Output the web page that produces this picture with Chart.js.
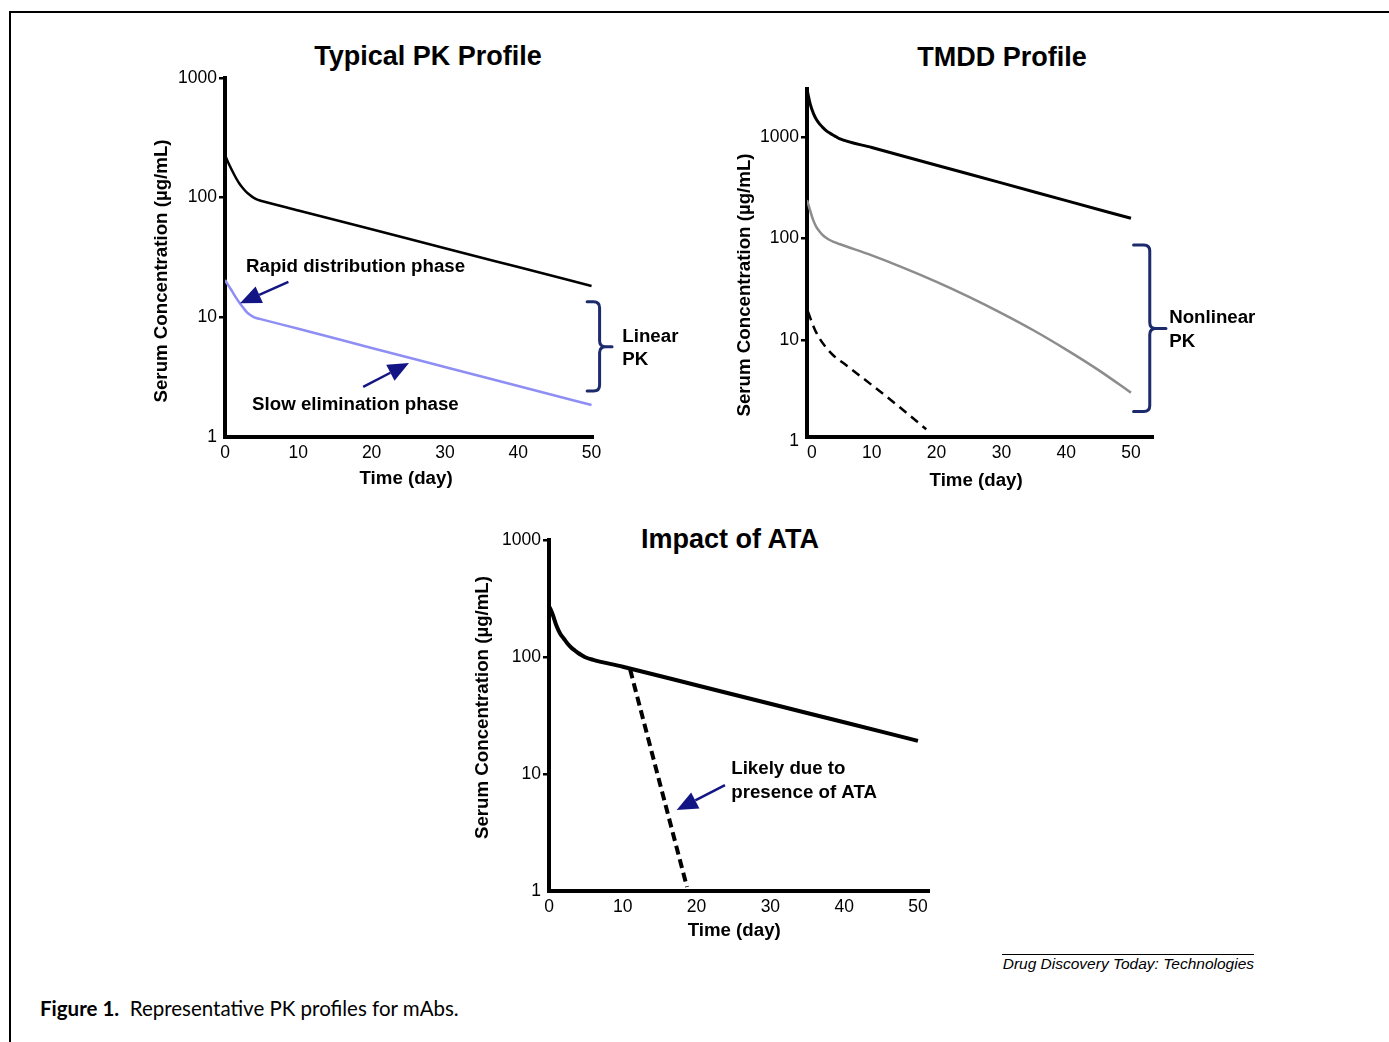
<!DOCTYPE html>
<html>
<head>
<meta charset="utf-8">
<script src="https://cdn.jsdelivr.net/npm/chart.js@4.4.1/dist/chart.umd.min.js"></script>
<style>
  body { margin: 0; background: #fff; width: 1389px; height: 1042px; position: relative; overflow: hidden;
         font-family: "Liberation Sans", Arial, Helvetica, sans-serif; color: #000; }
  .frame { position: absolute; left: 9px; top: 11px; width: 1380px; height: 1031px;
           border-top: 2px solid #000; border-left: 2px solid #000; }
  .title { position: absolute; width: 400px; text-align: center; font-weight: bold; font-size: 27px; line-height: 30px; }
  canvas { position: absolute; }
  .rule { position: absolute; left: 1002px; top: 954px; width: 252px; border-top: 1px solid #000; }
  .journal { position: absolute; left: 900px; top: 955px; width: 354px; text-align: right;
             font-style: italic; font-size: 15.5px; line-height: 18px; }
  .caption { position: absolute; left: 40px; top: 997px; font-family: Lato, "Open Sans", sans-serif;
             font-size: 20.5px; line-height: 22px; }
</style>
</head>
<body>
<div class="frame"></div>

<div class="title" style="left:228px; top:41px;">Typical PK Profile</div>
<div class="title" style="left:802px; top:42px;">TMDD Profile</div>
<div class="title" style="left:530px; top:524px;">Impact of ATA</div>

<canvas id="pk" width="600" height="450" style="left:130px; top:50px;"></canvas>
<canvas id="tmdd" width="680" height="450" style="left:700px; top:50px;"></canvas>
<canvas id="ata" width="640" height="440" style="left:440px; top:510px;"></canvas>

<div class="rule"></div>
<div class="journal">Drug Discovery Today: Technologies</div>
<div class="caption"><b>Figure 1.</b>&nbsp; Representative PK profiles for mAbs.</div>

<script>
const FONT = '"Liberation Sans", Arial, Helvetica, sans-serif';
const ARROW = '#141584';
const BRACE = '#1c2b6c';

// shared axis ticks
const dayTicks = [0, 10, 20, 30, 40, 50];
const concTicks = [1, 10, 100, 1000];

// Typical PK profile
const pkDays = [0, 0.5, 1, 1.5, 2, 2.5, 3, 3.5, 4, 4.5, 5, 10, 20, 30, 40, 50];
const pkUpper = [227, 193, 167, 146, 130, 119, 110, 104, 99.2, 95.9, 93.9, 78.2, 54.4, 37.8, 26.3, 18.3];
const pkLowerDays = [0, 0.5, 1, 1.5, 2, 2.5, 3, 3.5, 4, 4.5, 5, 10, 20, 30, 40, 50];
const pkLower = [20.5, 18.3, 16.4, 14.6, 13.2, 12.0, 11.0, 10.4, 10.0, 9.79, 9.61, 8.02, 5.55, 3.85, 2.67, 1.85];

// TMDD profile
const tmddHighDays = [0, 0.5, 1, 1.5, 2, 2.5, 3, 3.5, 4, 4.5, 5, 10, 20, 30, 40, 50];
const tmddHigh = [2940, 2110, 1700, 1470, 1330, 1230, 1150, 1095, 1046, 1004, 963, 788, 527, 353, 236, 158];
const tmddMidDays = [0, 0.5, 1, 1.5, 2, 2.5, 3, 3.5, 4, 4.5, 5, 10, 15, 20, 25, 30, 35, 40, 45, 50];
const tmddMid = [239, 187, 149, 128, 116, 107, 101, 96.6, 93.2, 90.7, 88.2, 68.1, 51.1, 37.4, 26.6, 18.4, 12.4, 8.04, 5.05, 3.03];
const tmddLowDays = [0.15, 0.5, 1, 1.5, 2, 3, 4, 6, 10, 14, 18.4];
const tmddLow = [19.0, 16.5, 13.6, 11.6, 10.2, 8.34, 7.11, 5.67, 3.6, 2.26, 1.32];

// Impact of ATA
const ataDays = [0, 0.5, 1, 1.5, 2, 2.5, 3, 3.5, 4, 4.5, 5, 6, 10, 20, 30, 40, 50];
const ataNoAta = [273, 231, 186, 159, 144, 130.5, 120.6, 113.6, 107.6, 103, 99, 94.6, 82.5, 57.3, 39.8, 27.7, 19.2];
const ataWithDays = [11, 18.7];
const ataWith = [78, 1.08];

function points(xs, ys) {
  return xs.map((x, i) => ({ x: x, y: ys[i] }));
}

function drawArrow(ctx, x1, y1, x2, y2) {
  const ang = Math.atan2(y2 - y1, x2 - x1);
  const len = 21, half = 9;
  const bx = x2 - len * Math.cos(ang), by = y2 - len * Math.sin(ang);
  ctx.strokeStyle = ARROW;
  ctx.fillStyle = ARROW;
  ctx.lineWidth = 2.5;
  ctx.beginPath();
  ctx.moveTo(x1, y1);
  ctx.lineTo(bx, by);
  ctx.stroke();
  ctx.beginPath();
  ctx.moveTo(x2, y2);
  ctx.lineTo(bx + half * Math.sin(ang), by - half * Math.cos(ang));
  ctx.lineTo(bx - half * Math.sin(ang), by + half * Math.cos(ang));
  ctx.closePath();
  ctx.fill();
}

function drawBrace(ctx, xl, xv, xr, yt, ym, yb) {
  const r = 6;
  ctx.strokeStyle = BRACE;
  ctx.lineWidth = 3;
  ctx.lineCap = 'round';
  ctx.lineJoin = 'round';
  ctx.beginPath();
  ctx.moveTo(xl, yt);
  ctx.lineTo(xv - r, yt);
  ctx.quadraticCurveTo(xv, yt, xv, yt + r);
  ctx.lineTo(xv, ym - r);
  ctx.quadraticCurveTo(xv, ym, xv + r, ym);
  ctx.lineTo(xr, ym);
  ctx.lineTo(xv + r, ym);
  ctx.quadraticCurveTo(xv, ym, xv, ym + r);
  ctx.lineTo(xv, yb - r);
  ctx.quadraticCurveTo(xv, yb, xv - r, yb);
  ctx.lineTo(xl, yb);
  ctx.stroke();
}

// axis titles, labels, arrows and braces, placed through the chart's own scales
function notesPlugin(cfg) {
  return {
    id: 'pkNotes',
    afterDraw(chart) {
      const ctx = chart.ctx, area = chart.chartArea;
      const px = d => chart.scales.x.getPixelForValue(d);
      const py = v => chart.scales.y.getPixelForValue(v);
      ctx.save();
      ctx.fillStyle = '#000';
      ctx.font = 'bold 18.7px ' + FONT;
      ctx.textAlign = 'center';
      ctx.textBaseline = 'middle';
      ctx.fillText('Time (day)', px(cfg.xTitleDay), area.bottom + cfg.xTitleGap);
      ctx.save();
      ctx.translate(area.left - cfg.yTitleGap, py(cfg.yTitleValue));
      ctx.rotate(-Math.PI / 2);
      ctx.fillText('Serum Concentration (µg/mL)', 0, 0);
      ctx.restore();
      ctx.textAlign = 'left';
      cfg.notes.forEach(n => ctx.fillText(n.text, px(n.day), py(n.value)));
      cfg.arrows.forEach(a => drawArrow(ctx, px(a.from[0]), py(a.from[1]), px(a.to[0]), py(a.to[1])));
      cfg.braces.forEach(b => drawBrace(ctx, px(b.left), px(b.mid), px(b.right), py(b.top), py(b.center), py(b.bottom)));
      ctx.restore();
    }
  };
}

function makeChart(id, datasets, box, notes) {
  return new Chart(document.getElementById(id), {
    type: 'line',
    data: { datasets: datasets },
    options: {
      responsive: false,
      animation: false,
      devicePixelRatio: 1,
      layout: { padding: { left: 0, top: box.top, right: box.right, bottom: 0 } },
      plugins: { legend: { display: false }, tooltip: { enabled: false } },
      elements: { point: { radius: 0 }, line: { tension: 0, cubicInterpolationMode: 'monotone' } },
      scales: {
        x: {
          type: 'linear', min: 0, max: box.xMax, bounds: 'data',
          afterBuildTicks: s => { s.ticks = dayTicks.map(v => ({ value: v })); },
          afterFit: s => { s.height = box.xHeight; },
          grid: { display: false, drawTicks: false, tickLength: 0 },
          border: { display: true, color: '#000', width: 4 },
          ticks: { color: '#000', font: { size: 17.5 }, padding: 6, maxRotation: 0, autoSkip: false,
                   callback: v => (v === 0 && box.zeroShift) ? '  0' : String(v) }
        },
        y: {
          type: 'logarithmic', min: box.yMin, max: box.yMax, bounds: 'data',
          afterBuildTicks: s => { s.ticks = concTicks.map(v => ({ value: v })); },
          afterFit: s => { s.width = box.yWidth; },
          grid: { display: true, drawOnChartArea: false, drawTicks: true, tickLength: 6, lineWidth: 2.5,
                  color: c => (c.tick && c.tick.value === 1) ? 'rgba(0,0,0,0)' : '#000' },
          border: { display: true, color: '#000', width: 4 },
          ticks: { color: '#000', font: { size: 17.5 }, padding: 2, autoSkip: false, callback: v => String(v) }
        }
      }
    },
    plugins: [notesPlugin(notes)]
  });
}

Chart.defaults.font.family = FONT;
Chart.defaults.color = '#000';

makeChart('pk', [
  { data: points(pkDays, pkUpper), borderColor: '#000', borderWidth: 2.5 },
  { data: points(pkLowerDays, pkLower), borderColor: '#8e8ef5', borderWidth: 2.5 }
], { top: 28, right: 137, xHeight: 63, yWidth: 95, xMax: 50.2, yMin: 1, yMax: 1000 }, {
  xTitleDay: 24.7, xTitleGap: 42, yTitleValue: 24.4, yTitleGap: 63,
  notes: [
    { text: 'Rapid distribution phase', day: 2.87, value: 26.3 },
    { text: 'Slow elimination phase', day: 3.7, value: 1.85 },
    { text: 'Linear', day: 54.2, value: 6.89 },
    { text: 'PK', day: 54.2, value: 4.4 }
  ],
  arrows: [
    { from: [8.65, 19.8], to: [2.05, 13.1] },
    { from: [18.85, 2.62], to: [25.1, 4.15] }
  ],
  braces: [{ left: 49.4, mid: 51.1, right: 52.8, top: 13.5, center: 5.68, bottom: 2.42 }]
});

makeChart('tmdd', [
  { data: points(tmddHighDays, tmddHigh), borderColor: '#000', borderWidth: 3 },
  { data: points(tmddMidDays, tmddMid), borderColor: '#8c8c8c', borderWidth: 2.5 },
  { data: points(tmddLowDays, tmddLow), borderColor: '#000', borderWidth: 2.5, borderDash: [9, 6] }
], { top: 39, right: 227, xHeight: 63, yWidth: 107, xMax: 53.4, yMin: 1.107, yMax: 2970, zeroShift: true }, {
  xTitleDay: 26.1, xTitleGap: 44, yTitleValue: 34.8, yTitleGap: 62,
  notes: [
    { text: 'Nonlinear', day: 55.9, value: 16.7 },
    { text: 'PK', day: 55.9, value: 9.6 }
  ],
  arrows: [],
  braces: [{ left: 50.4, mid: 52.9, right: 55.4, top: 86.3, center: 13.0, bottom: 1.97 }]
});

makeChart('ata', [
  { data: points(ataDays, ataNoAta), borderColor: '#000', borderWidth: 4 },
  { data: points(ataWithDays, ataWith), borderColor: '#000', borderWidth: 4, borderDash: [9, 5] }
], { top: 30, right: 151, xHeight: 59, yWidth: 109, xMax: 51.5, yMin: 1, yMax: 1000 }, {
  xTitleDay: 25.1, xTitleGap: 40, yTitleValue: 37, yTitleGap: 66,
  notes: [
    { text: 'Likely due to', day: 24.7, value: 11.0 },
    { text: 'presence of ATA', day: 24.7, value: 6.88 }
  ],
  arrows: [{ from: [23.85, 8.05], to: [17.3, 4.92] }],
  braces: []
});
</script>
</body>
</html>
